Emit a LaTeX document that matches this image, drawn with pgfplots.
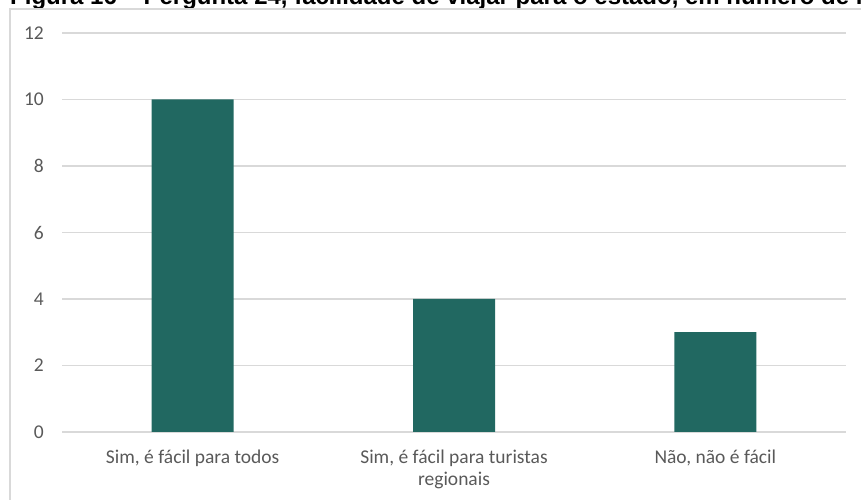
\documentclass[border=0pt]{standalone}
\usepackage{pgfplots}
\pgfplotsset{compat=1.18}
\usepackage{fontspec}
\setmainfont{Carlito}
\newfontfamily\titlefont{Liberation Sans}
\definecolor{barcol}{HTML}{216861}
\definecolor{gridcol}{HTML}{D9D9D9}
\definecolor{labcol}{HTML}{595959}

\begin{document}
\begin{tikzpicture}
  \useasboundingbox (0pt,0pt) rectangle (861pt,500pt);
  \clip (0pt,0pt) rectangle (861pt,500pt);
  % caption of the figure, mostly cut off by the page edge
  \node[anchor=base west, inner sep=0pt,
        font=\titlefont\bfseries\fontsize{24}{28}\selectfont]
    at (10pt,495pt) {Figura 16 – Pergunta 24, facilidade de viajar para o estado, em número de respondentes};
  % chart frame
  \draw[gridcol, line width=1.3pt] (10pt,-20pt) -- (10pt,491pt) -- (900pt,491pt);
  \begin{axis}[
    at={(62pt,68pt)}, anchor=south west,
    width=784pt, height=399pt, scale only axis,
    xmin=-0.5, xmax=2.5, ymin=0, ymax=12,
    ytick={0,2,...,12},
    xtick={0,1,2},
    xticklabels={{Sim, é fácil para todos},{Sim, é fácil para turistas\\regionais},{Não, não é fácil}},
    /pgf/number format/assume math mode=true,
    ymajorgrids,
    grid style={gridcol, line width=1.3pt},
    axis line style={draw=none},
    major tick length=0pt,
    ticklabel style={font=\fontsize{19.5}{22}\selectfont, text=labcol, inner sep=0pt},
    yticklabel style={xshift=-18pt},
    xticklabel style={align=center, yshift=-18pt},
    ybar, bar width=82pt,
  ]
    \addplot[fill=barcol, draw=none] coordinates {(0,10) (1,4) (2,3)};
  \end{axis}
\end{tikzpicture}
\end{document}
